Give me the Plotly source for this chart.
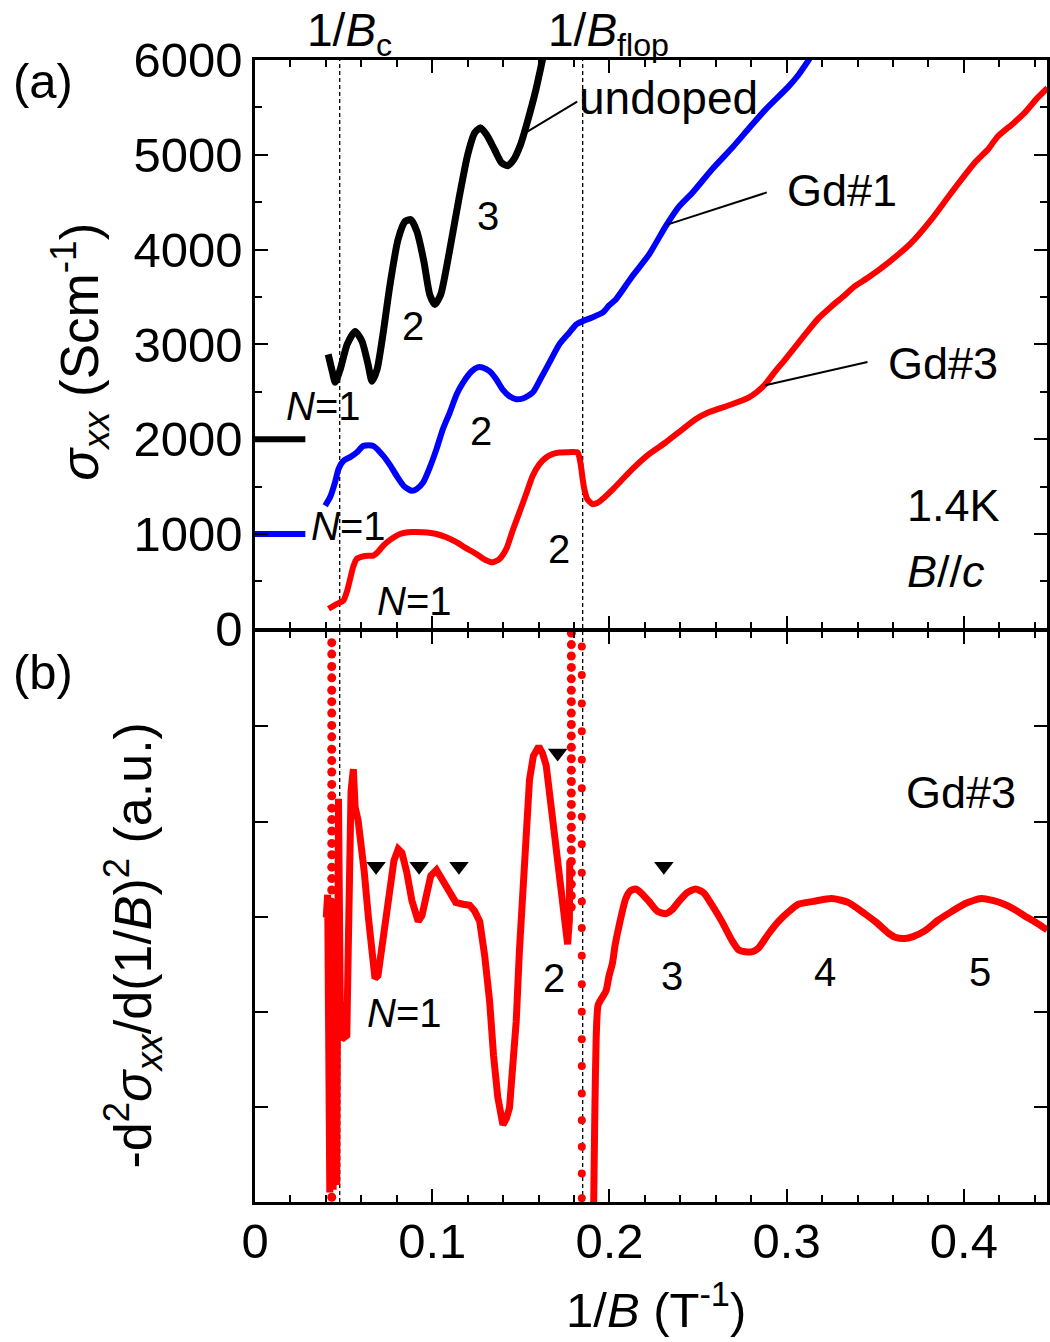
import plotly.graph_objects as go

# ---------------- data (panel a) ----------------
undoped_x = [0.0413, 0.0436, 0.0453, 0.0481, 0.0520, 0.0565, 0.0604, 0.0638, 0.0660, 0.0689,
             0.0722, 0.0762, 0.0807, 0.0846, 0.0880, 0.0914, 0.0953, 0.0986, 0.1015, 0.1048,
             0.1099, 0.1155, 0.1200, 0.1240, 0.1273, 0.1307, 0.1352, 0.1391, 0.1425, 0.1459,
             0.1498, 0.1537, 0.1582, 0.1622, 0.1640]
undoped_y = [2895, 2716, 2600, 2737, 3000, 3137, 3032, 2789, 2611, 2737,
             3105, 3632, 4105, 4295, 4316, 4189, 3874, 3526, 3421, 3526,
             4000, 4579, 5000, 5232, 5284, 5211, 5053, 4916, 4884, 4947,
             5105, 5347, 5663, 6000, 6150]

gd1_x = [0.0396, 0.0424, 0.0452, 0.0471, 0.0499, 0.0537, 0.0574, 0.0612, 0.0668, 0.0724,
         0.0762, 0.0799, 0.0840, 0.0884, 0.0913, 0.0949, 0.0987, 0.1024, 0.1060, 0.1099,
         0.1138, 0.1174, 0.1223, 0.1256, 0.1286, 0.1324, 0.1361, 0.1397, 0.1436, 0.1474,
         0.1515, 0.1567, 0.1610, 0.1661, 0.1717, 0.1773, 0.1813, 0.1848, 0.1903, 0.1961,
         0.1998, 0.2036, 0.2129, 0.2223, 0.2317, 0.2392, 0.2467, 0.2577, 0.2691, 0.2785,
         0.2879, 0.3010, 0.3066, 0.3160]
gd1_y = [1298, 1389, 1547, 1684, 1772, 1811, 1860, 1929, 1929, 1824,
         1726, 1614, 1505, 1456, 1474, 1544, 1705, 1895, 2105, 2281,
         2474, 2597, 2716, 2758, 2755, 2716, 2632, 2526, 2453, 2421,
         2432, 2492, 2632, 2807, 3000, 3123, 3211, 3245, 3284, 3334,
         3411, 3474, 3719, 3947, 4245, 4453, 4597, 4842, 5071, 5274,
         5474, 5719, 5842, 6100]

gd3_x = [0.0415, 0.0462, 0.0499, 0.0520, 0.0537, 0.0554, 0.0574, 0.0621, 0.0668, 0.0694,
         0.0724, 0.0762, 0.0818, 0.0885, 0.0949, 0.1024, 0.1076, 0.1137, 0.1189, 0.1249,
         0.1301, 0.1342, 0.1380, 0.1418, 0.1453, 0.1492, 0.1532, 0.1567, 0.1605, 0.1643,
         0.1678, 0.1717, 0.1773, 0.1820, 0.1830, 0.1839, 0.1849, 0.1858, 0.1875, 0.1904,
         0.1931, 0.1961, 0.2026, 0.2129, 0.2223, 0.2317, 0.2392, 0.2486, 0.2560, 0.2691,
         0.2785, 0.2830, 0.2879, 0.2931, 0.2992, 0.3104, 0.3179, 0.3254, 0.3319, 0.3385,
         0.3460, 0.3572, 0.3703, 0.3816, 0.3928, 0.4060, 0.4134, 0.4191, 0.4275, 0.4341,
         0.4415, 0.4472]
gd3_y = [211, 263, 298, 400, 526, 653, 737, 768, 772, 811,
         877, 937, 1000, 1021, 1018, 1000, 968, 913, 853, 789,
         726, 702, 737, 842, 1032, 1228, 1432, 1614, 1737, 1807,
         1842, 1860, 1863, 1860, 1811, 1719, 1579, 1474, 1368, 1316,
         1326, 1368, 1484, 1684, 1842, 1965, 2074, 2211, 2284, 2368,
         2439, 2495, 2579, 2705, 2842, 3105, 3274, 3403, 3505, 3614,
         3705, 3860, 4071, 4316, 4597, 4913, 5053, 5193, 5326, 5439,
         5600, 5705]

# offset markers at the left axis
offset_x = [0.0, 0.0284]
offset_black_y = [2000, 2000]
offset_blue_y = [1000, 1000]

# ---------------- data (panel b) ----------------
d2_seg1_x = [0.0402, 0.0410, 0.0422, 0.0433, 0.0441, 0.0452, 0.0461, 0.0471, 0.0481, 0.0490,
             0.0503, 0.0518, 0.0526, 0.0531, 0.0542, 0.0555, 0.0559, 0.0565, 0.0582, 0.0593,
             0.0616, 0.0640, 0.0660, 0.0677, 0.0694, 0.0711, 0.0734, 0.0762, 0.0784, 0.0808,
             0.0829, 0.0856, 0.0885, 0.0921, 0.0942, 0.0968, 0.0992, 0.1024, 0.1054, 0.1099,
             0.1133, 0.1174, 0.1211, 0.1239, 0.1268, 0.1296, 0.1324, 0.1346, 0.1370, 0.1399,
             0.1419, 0.1436, 0.1453, 0.1474, 0.1492, 0.1511, 0.1532, 0.1549, 0.1571, 0.1601,
             0.1622, 0.1643, 0.1667, 0.1699, 0.1723, 0.1745, 0.1764, 0.1774, 0.1776]
d2_seg1_y = [2.99, 3.23, 0.10, 3.17, 0.13, 2.85, 0.18, 4.24, 2.12, 1.71,
             1.73, 1.75, 2.64, 3.87, 4.32, 4.55, 4.22, 4.15, 4.01, 3.87,
             3.48, 2.99, 2.54, 2.35, 2.38, 2.59, 2.96, 3.31, 3.59, 3.71,
             3.67, 3.47, 3.17, 2.95, 3.01, 3.23, 3.43, 3.49, 3.40, 3.23,
             3.15, 3.13, 3.12, 3.06, 2.95, 2.59, 2.11, 1.54, 1.10, 0.81,
             0.88, 0.99, 1.33, 1.90, 2.64, 3.31, 4.01, 4.44, 4.69, 4.79,
             4.72, 4.59, 4.22, 3.71, 3.27, 2.91, 2.71, 2.96, 3.59]

d2_seg2_x = [0.1911, 0.1917, 0.1925, 0.1936, 0.1959, 0.1981, 0.1998, 0.2017, 0.2032, 0.2055,
             0.2092, 0.2117, 0.2148, 0.2184, 0.2223, 0.2268, 0.2317, 0.2352, 0.2392, 0.2437,
             0.2486, 0.2532, 0.2579, 0.2634, 0.2691, 0.2729, 0.2767, 0.2802, 0.2841, 0.2898,
             0.2954, 0.3010, 0.3066, 0.3151, 0.3254, 0.3347, 0.3441, 0.3505, 0.3572, 0.3617,
             0.3666, 0.3713, 0.3779, 0.3853, 0.3928, 0.4011, 0.4097, 0.4162, 0.4228, 0.4281,
             0.4341, 0.4404, 0.4470]
d2_seg2_y = [-0.03, 0.86, 1.71, 2.07, 2.15, 2.22, 2.38, 2.51, 2.70, 2.91,
             3.19, 3.27, 3.29, 3.24, 3.16, 3.06, 3.03, 3.07, 3.16, 3.25,
             3.29, 3.25, 3.12, 2.95, 2.75, 2.65, 2.63, 2.63, 2.67, 2.82,
             2.95, 3.05, 3.13, 3.16, 3.19, 3.15, 3.03, 2.94, 2.83, 2.78,
             2.77, 2.79, 2.85, 2.96, 3.05, 3.14, 3.19, 3.17, 3.13, 3.08,
             3.01, 2.94, 2.86]

# sparse (off-scale) points of the derivative, drawn as dots
dots1_x = 0.0433
dots1_y = [5.88, 5.76, 5.63, 5.51, 5.38, 5.26, 5.14, 5.01, 4.89, 4.76, 4.64, 4.52,
           4.39, 4.27, 4.14, 4.02, 3.90, 3.77, 3.65, 3.52, 3.40, 3.28, 3.15, 3.03,
           2.90, 2.78, 2.66, 2.53, 2.41, 2.28, 2.16, 2.04, 1.91, 1.79, 1.66, 1.54,
           1.42, 1.29, 1.17, 1.04, 0.92, 0.80, 0.67, 0.55, 0.42, 0.30, 0.18, 0.05]
dots2_x = 0.1785
dots2_y = [5.98, 5.86, 5.74, 5.62, 5.50, 5.38, 5.26, 5.14, 5.02, 4.90, 4.78, 4.66,
           4.54, 4.42, 4.30, 4.18, 4.06, 3.94, 3.82, 3.70, 3.58, 3.46, 3.34, 3.22, 3.10]
dots3_x = 0.1844
dots3_y = [5.84, 5.54, 5.24, 4.95, 4.65, 4.35, 4.05, 3.76, 3.46, 3.16, 2.88,
           2.59, 2.29, 2.00, 1.71, 1.43, 1.14, 0.86, 0.58, 0.30, 0.04]

tri_x = [0.0683, 0.0926, 0.1151, 0.1708, 0.2307]
tri_y = [3.53, 3.53, 3.53, 4.72, 3.53]

inv_Bc = 0.0478
inv_Bflop = 0.1849

FONT = "Liberation Sans, Arial, sans-serif"
RED = "#ff0000"
BLUE = "#0000ff"

fig = go.Figure()

# panel (a)
fig.add_trace(go.Scatter(x=offset_x, y=offset_black_y, mode="lines", xaxis="x2", yaxis="y2",
                         line=dict(color="black", width=6), showlegend=False))
fig.add_trace(go.Scatter(x=offset_x, y=offset_blue_y, mode="lines", xaxis="x2", yaxis="y2",
                         line=dict(color=BLUE, width=6), showlegend=False))
fig.add_trace(go.Scatter(x=gd3_x, y=gd3_y, mode="lines", xaxis="x2", yaxis="y2",
                         line=dict(color=RED, width=6, shape="spline", smoothing=0.6), showlegend=False))
fig.add_trace(go.Scatter(x=gd1_x, y=gd1_y, mode="lines", xaxis="x2", yaxis="y2",
                         line=dict(color=BLUE, width=6, shape="spline", smoothing=0.6), showlegend=False))
fig.add_trace(go.Scatter(x=undoped_x, y=undoped_y, mode="lines", xaxis="x2", yaxis="y2",
                         line=dict(color="black", width=7, shape="spline", smoothing=0.6), showlegend=False))

# panel (b)
fig.add_trace(go.Scatter(x=[dots1_x] * len(dots1_y), y=dots1_y, mode="markers", xaxis="x", yaxis="y",
                         marker=dict(color=RED, size=9), showlegend=False))
fig.add_trace(go.Scatter(x=[dots2_x] * len(dots2_y), y=dots2_y, mode="markers", xaxis="x", yaxis="y",
                         marker=dict(color=RED, size=9), showlegend=False))
fig.add_trace(go.Scatter(x=[dots3_x] * len(dots3_y), y=dots3_y, mode="markers", xaxis="x", yaxis="y",
                         marker=dict(color=RED, size=8), showlegend=False))
fig.add_trace(go.Scatter(x=d2_seg1_x, y=d2_seg1_y, mode="lines", xaxis="x", yaxis="y",
                         line=dict(color=RED, width=7), showlegend=False))
fig.add_trace(go.Scatter(x=d2_seg2_x, y=d2_seg2_y, mode="lines", xaxis="x", yaxis="y",
                         line=dict(color=RED, width=7, shape="spline", smoothing=0.6), showlegend=False))
fig.add_trace(go.Scatter(x=tri_x, y=tri_y, mode="markers", xaxis="x", yaxis="y",
                         marker=dict(color="black", size=17, symbol="triangle-down"), showlegend=False))

# dashed vertical lines across both panels
for xv in (inv_Bc, inv_Bflop):
    fig.add_shape(type="line", xref="x", yref="paper", x0=xv, x1=xv, y0=0, y1=1,
                  line=dict(color="black", width=1.3, dash="4px,3px"), layer="below")

# leader lines
leaders = [((0.1537, 5245), (0.1818, 5561)),
           ((0.2326, 4263), (0.2888, 4603)),
           ((0.2879, 2568), (0.3456, 2814))]
for (a, b) in leaders:
    fig.add_shape(type="line", xref="x2", yref="y2", x0=a[0], y0=a[1], x1=b[0], y1=b[1],
                  line=dict(color="black", width=2), layer="above")

ann = []
def txt(x, y, t, size=44, xref="x2", yref="y2", yanchor="middle", **kw):
    ann.append(dict(x=x, y=y, xref=xref, yref=yref, text=t, showarrow=False,
                    font=dict(family=FONT, size=size, color="black"),
                    xanchor="center", yanchor=yanchor, **kw))

# panel (a) labels
txt(0.1314, 4358, "3", 40)
txt(0.0893, 3189, "2", 40)
txt(0.0385, 2347, "<i>N</i>=1", 40)
txt(0.1277, 2084, "2", 40)
txt(0.0526, 1084, "<i>N</i>=1", 40)
txt(0.1717, 842, "2", 40)
txt(0.0902, 295, "<i>N</i>=1", 40)
txt(0.2335, 5600, "undoped", 46)
txt(0.3311, 4621, "Gd#1", 45)
txt(0.3881, 2800, "Gd#3", 45)
txt(0.3943, 1295, "1.4K", 45)
txt(0.3899, 600, "<i>B</i>//<i>c</i>", 45)

# panel (b) labels
txt(0.0846, 1.99, "<i>N</i>=1", 40, xref="x", yref="y")
txt(0.1689, 2.35, "2", 40, xref="x", yref="y")
txt(0.2352, 2.38, "3", 40, xref="x", yref="y")
txt(0.3218, 2.42, "4", 40, xref="x", yref="y")
txt(0.4089, 2.42, "5", 40, xref="x", yref="y")
txt(0.3983, 4.31, "Gd#3", 45, xref="x", yref="y")

# outer labels (paper coords)
txt(0.1195, 1.0508, "1/<i>B</i><sub>c</sub>", 46, xref="paper", yref="paper", yanchor="top")
txt(0.4465, 1.0508, "1/<i>B</i><sub>flop</sub>", 46, xref="paper", yref="paper", yanchor="top")
txt(-0.2673, 0.9816, "(a)", 49, xref="paper", yref="paper")
txt(-0.268, 0.4641, "(b)", 49, xref="paper", yref="paper")
txt(-0.2226, 0.7443, "<i>σ</i><sub><i>xx</i></sub> (Scm<sup>-1</sup>)", 53,
    xref="paper", yref="paper", textangle=-90)
txt(-0.1535, 0.2250, "-d<sup>2</sup><i>σ</i><sub><i>xx</i></sub>/d(1/<i>B</i>)<sup>2</sup> (a.u.)", 52,
    xref="paper", yref="paper", textangle=-90)
txt(0.5057, -0.1200, "1/<i>B</i> (T<sup>-1</sup>)", 49, xref="paper", yref="paper", yanchor="bottom")

H = 1142.0
top_lo = (572 + 1.25) / H
bot_hi = (572 - 1.25) / H

common_x = dict(range=[0, 0.4469], showgrid=False, zeroline=False, showline=True,
                linecolor="black", linewidth=2.5, mirror="ticks", ticks="inside",
                ticklen=13, tickwidth=2, tickcolor="black", tick0=0, dtick=0.1,
                minor=dict(ticks="inside", ticklen=7, tickwidth=2, tickcolor="black",
                           tick0=0, dtick=0.02, showgrid=False))

fig.update_layout(
    width=1050, height=1342,
    margin=dict(l=255, r=0, t=60, b=140),
    paper_bgcolor="white", plot_bgcolor="white",
    font=dict(family=FONT, color="black"),
    showlegend=False,
    xaxis=dict(domain=[0, 1], anchor="y", showticklabels=True,
               tickfont=dict(family=FONT, size=49, color="black"),
               ticklabelstandoff=-6, **common_x),
    xaxis2=dict(domain=[0, 1], anchor="y2", matches="x", showticklabels=False, **common_x),
    yaxis=dict(domain=[0, bot_hi], anchor="x", range=[0, 6], dtick=1, tick0=0,
               showticklabels=False, showgrid=False, zeroline=False, showline=True,
               linecolor="black", linewidth=2.5, mirror="ticks", ticks="inside",
               ticklen=13, tickwidth=2, tickcolor="black"),
    yaxis2=dict(domain=[top_lo, 1], anchor="x2", range=[0, 6000], dtick=1000, tick0=0,
                tickformat="d", showgrid=False, zeroline=False, showline=True,
                linecolor="black", linewidth=2.5, mirror="ticks", ticks="inside",
                ticklen=13, tickwidth=2, tickcolor="black",
                tickfont=dict(family=FONT, size=49, color="black"), ticklabelstandoff=0,
                minor=dict(ticks="inside", ticklen=7, tickwidth=2, tickcolor="black",
                           tick0=0, dtick=500, showgrid=False)),
    annotations=ann,
)

fig.write_html("out.html", config={"displayModeBar": False},
               post_script="document.body.style.margin='0';document.body.style.padding='0';")
